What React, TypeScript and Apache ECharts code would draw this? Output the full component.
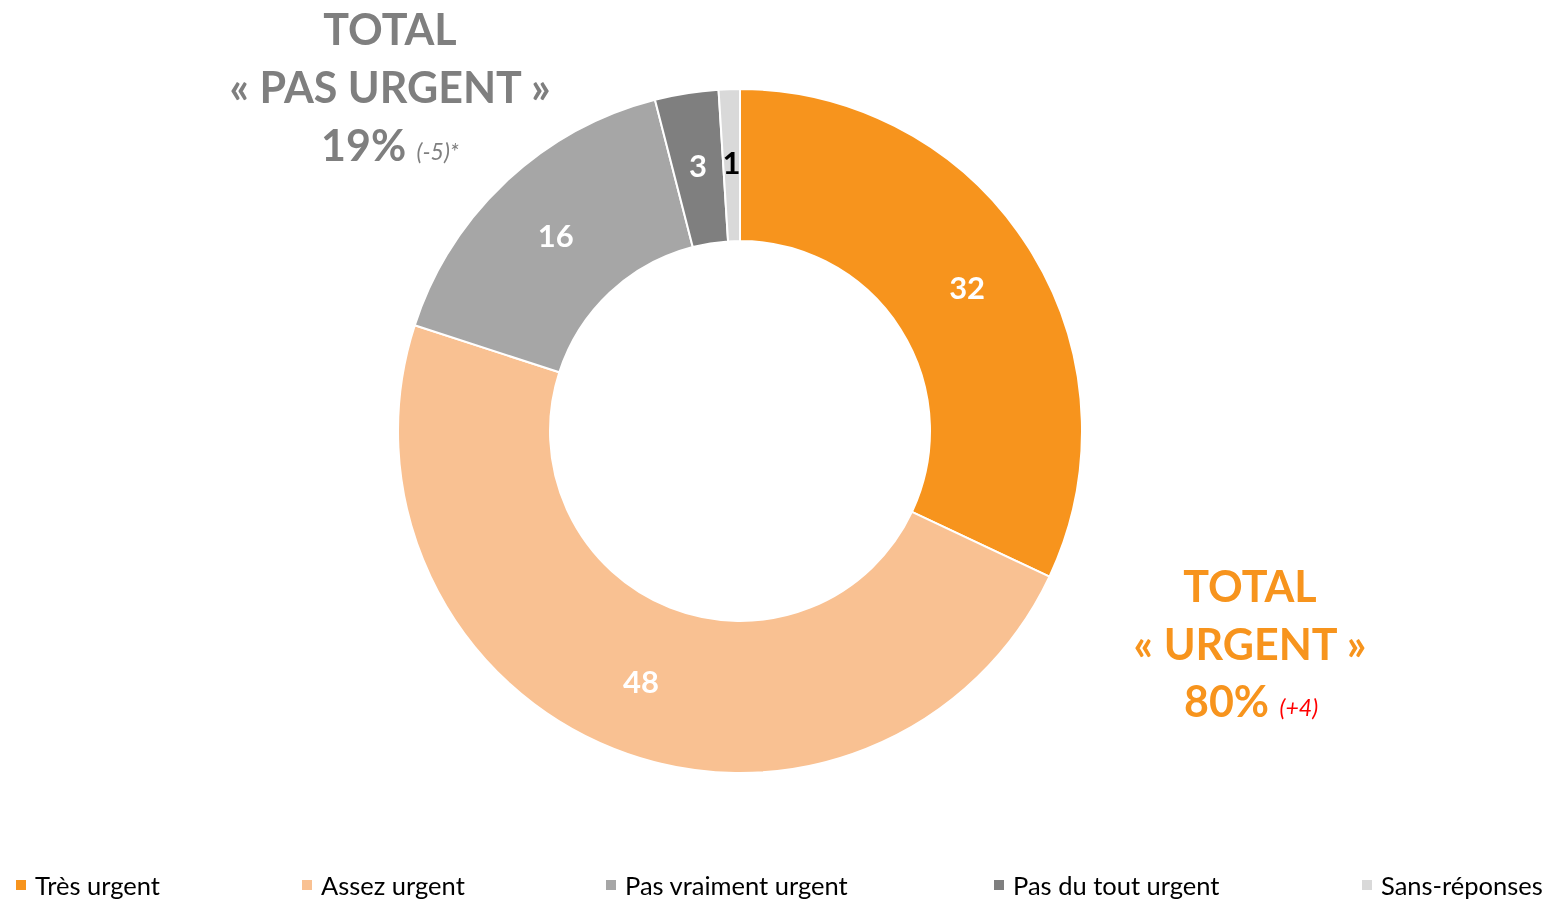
import React, { useEffect, useRef } from "react";
import * as echarts from "echarts";

const categories = ["Très urgent", "Assez urgent", "Pas vraiment urgent", "Pas du tout urgent", "Sans-réponses"];
const values = [32, 48, 16, 3, 1];
const colors = ["#F7941D", "#F9C192", "#A6A6A6", "#7F7F7F", "#D9D9D9"];
const labelColors = ["#FFFFFF", "#FFFFFF", "#FFFFFF", "#FFFFFF", "#000000"];
const legendLefts = [14, 300, 604, 992, 1360];

const FONT = "Lato, 'Open Sans', sans-serif";

export default function App() {
  const ref = useRef<HTMLDivElement>(null);
  useEffect(() => {
    if (!ref.current) return;
    const chart = echarts.init(ref.current, undefined, { renderer: "svg" });
    const titleStyle = (color: string) => ({
      fontFamily: FONT,
      fontWeight: "bold",
      fontSize: 43,
      fill: color,
      align: "center",
      verticalAlign: "middle",
    });
    chart.setOption({
      animation: false,
      textStyle: { fontFamily: FONT },
      legend: categories.map((c, i) => ({
        data: [c],
        left: legendLefts[i],
        top: 872,
        padding: 0,
        itemWidth: 12,
        itemHeight: 12,
        itemGap: 0,
        icon: "rect",
        selectedMode: false,
        textStyle: { fontSize: 25.5, color: "#000000", fontFamily: FONT, padding: [0, 0, 0, 3] },
      })),
      series: [
        {
          type: "pie",
          center: [740, 431],
          radius: [190, 342],
          startAngle: 90,
          clockwise: true,
          avoidLabelOverlap: false,
          itemStyle: { borderColor: "#FFFFFF", borderWidth: 2 },
          label: {
            show: true,
            position: "inside",
            formatter: "{c}",
            fontSize: 31,
            fontWeight: "bold",
            fontFamily: FONT,
          },
          labelLine: { show: false },
          emphasis: { disabled: true },
          data: categories.map((c, i) => ({
            name: c,
            value: values[i],
            itemStyle: { color: colors[i] },
            label: { color: labelColors[i] },
          })),
        },
      ],
      graphic: [
        { type: "text", x: 390, y: 28, style: { ...titleStyle("#7F7F7F"), text: "TOTAL" } },
        { type: "text", x: 390, y: 86, style: { ...titleStyle("#7F7F7F"), text: "« PAS URGENT »" } },
        {
          type: "text",
          x: 390,
          y: 144,
          style: {
            ...titleStyle("#7F7F7F"),
            text: "{a|19%} {b|(-5)*}",
            rich: {
              a: { fontFamily: FONT, fontWeight: "bold", fontSize: 43, fill: "#7F7F7F" },
              b: { fontFamily: FONT, fontStyle: "italic", fontSize: 23, fill: "#7F7F7F", padding: [14, 0, 0, 0] },
            },
          },
        },
        { type: "text", x: 1250, y: 585, style: { ...titleStyle("#F7941D"), text: "TOTAL" } },
        { type: "text", x: 1250, y: 643, style: { ...titleStyle("#F7941D"), text: "« URGENT »" } },
        {
          type: "text",
          x: 1251,
          y: 700,
          style: {
            ...titleStyle("#F7941D"),
            text: "{a|80%} {b|(+4)}",
            rich: {
              a: { fontFamily: FONT, fontWeight: "bold", fontSize: 43, fill: "#F7941D" },
              b: { fontFamily: FONT, fontStyle: "italic", fontSize: 23, fill: "#FF0000", padding: [14, 0, 0, 0] },
            },
          },
        },
      ],
    });
    return () => chart.dispose();
  }, []);
  return <div ref={ref} style={{ position: "fixed", left: 0, top: 0, width: 1553, height: 900 }} />;
}
